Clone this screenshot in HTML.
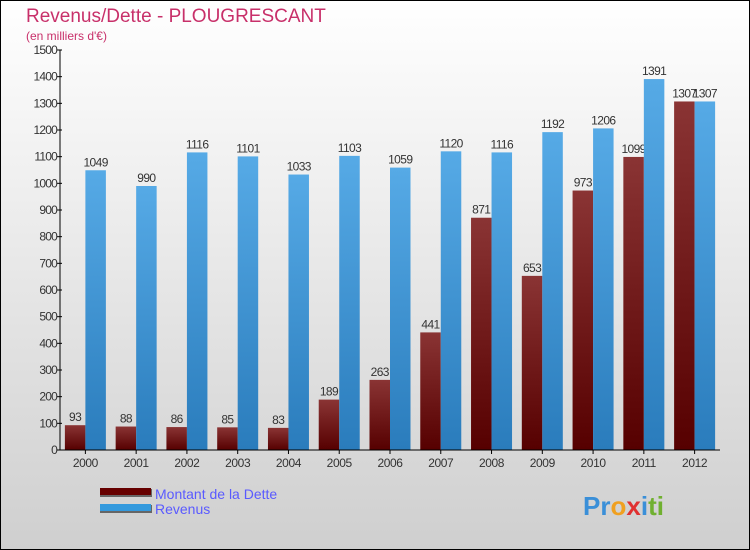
<!DOCTYPE html>
<html><head><meta charset="utf-8"><style>
body{margin:0;width:750px;height:550px;overflow:hidden}
svg{display:block}
text{font-family:"Liberation Sans",sans-serif}
</style></head><body>
<svg id="chart" width="750" height="550" xmlns="http://www.w3.org/2000/svg">
<defs>
<linearGradient id="bg" x1="0" y1="0" x2="0" y2="1"><stop offset="0" stop-color="#ffffff"/><stop offset="1" stop-color="#cfcfcf"/></linearGradient>
<linearGradient id="gr" x1="0" y1="0" x2="0" y2="1"><stop offset="0" stop-color="#8a3434"/><stop offset="1" stop-color="#560000"/></linearGradient>
<linearGradient id="gb" x1="0" y1="0" x2="0" y2="1"><stop offset="0" stop-color="#56aae6"/><stop offset="1" stop-color="#2a7cbc"/></linearGradient>
</defs>
<rect x="0.5" y="0.5" width="749" height="549" fill="url(#bg)" stroke="#000"/>
<text x="26" y="22" font-size="19" fill="#c8306a">Revenus/Dette - PLOUGRESCANT</text>
<text x="26" y="40" font-size="12" fill="#c8306a">(en milliers d'€)</text>
<g id="yaxis"></g>
<g id="bars"></g>
<g id="xaxis"></g>
<g>
<rect x="100" y="489" width="52" height="8" fill="#666"/>
<rect x="100" y="488" width="51" height="7" fill="#660000"/>
<text x="155" y="499" font-size="14" fill="#5a5aff">Montant de la Dette</text>
<rect x="100" y="505" width="52" height="8" fill="#666"/>
<rect x="100" y="504" width="51" height="7" fill="#3399dd"/>
<text x="155" y="514" font-size="14" fill="#5a5aff">Revenus</text>
</g>
<text x="583" y="515" font-size="26" font-weight="bold"><tspan fill="#3a8fd8">Pr</tspan><tspan fill="#f0a020">o</tspan><tspan fill="#e03030">x</tspan><tspan fill="#3a8fd8">i</tspan><tspan fill="#70b030">ti</tspan></text>
</svg>
<script>
const categories=["2000","2001","2002","2003","2004","2005","2006","2007","2008","2009","2010","2011","2012"];
const debtValues=[93,88,86,85,83,189,263,441,871,653,973,1099,1307];
const revenueValues=[1049,990,1116,1101,1033,1103,1059,1120,1116,1192,1206,1391,1307];
const yTicks=[0,100,200,300,400,500,600,700,800,900,1000,1100,1200,1300,1400,1500];
const NS="http://www.w3.org/2000/svg";
const x0=60,x1=720,y0=450,yTop=50,yMax=1500;
const step=(x1-x0)/categories.length;
function yS(v){return y0-(v/yMax)*(y0-yTop);}
function xC(i){return x0+step*(i+0.5);}
function mk(tag,attrs,parent){const e=document.createElementNS(NS,tag);for(const k in attrs)e.setAttribute(k,attrs[k]);parent.appendChild(e);return e;}
const ya=document.getElementById('yaxis'),bars=document.getElementById('bars'),xa=document.getElementById('xaxis');
let l=mk('line',{x1:x0,y1:yTop,x2:x0,y2:y0,stroke:'#000'},ya);


yTicks.forEach(t=>{
 const y=yS(t);
 const tk=mk('line',{x1:x0-3,y1:y,x2:x0+2,y2:y,stroke:'#000'},ya);
 
 
 const tx=mk('text',{x:x0-3,y:y+4,'font-size':12,fill:'#333','text-anchor':'end','letter-spacing':'-0.8'},ya);
 tx.textContent=t;
 
 
});
const bw=20.5;
categories.forEach((c,i)=>{
 const cx=xC(i);
 const r=mk('rect',{x:cx-bw,y:yS(debtValues[i]),width:bw,height:y0-yS(debtValues[i]),fill:'url(#gr)'},bars);
 
 
 const t=mk('text',{x:cx-bw/2,y:yS(debtValues[i])-4,'font-size':12,fill:'#333','text-anchor':'middle','letter-spacing':'-0.6'},bars);
 t.textContent=debtValues[i];
 
 
});
categories.forEach((c,i)=>{
 const cx=xC(i);
 const r=mk('rect',{x:cx,y:yS(revenueValues[i]),width:bw,height:y0-yS(revenueValues[i]),fill:'url(#gb)'},bars);
 
 
 const t=mk('text',{x:cx+bw/2,y:yS(revenueValues[i])-4,'font-size':12,fill:'#333','text-anchor':'middle','letter-spacing':'-0.6'},bars);
 t.textContent=revenueValues[i];
 
 
 const tk=mk('line',{x1:cx,y1:y0,x2:cx,y2:y0+4,stroke:'#000'},xa);
 
 
 const tx=mk('text',{x:cx,y:y0+17,'font-size':12,fill:'#333','text-anchor':'middle','letter-spacing':'-0.4'},xa);
 tx.textContent=c;
 
 
});
l=mk('line',{x1:x0-3,y1:y0,x2:x1,y2:y0,stroke:'#000'},xa);


</script>
</body></html>
